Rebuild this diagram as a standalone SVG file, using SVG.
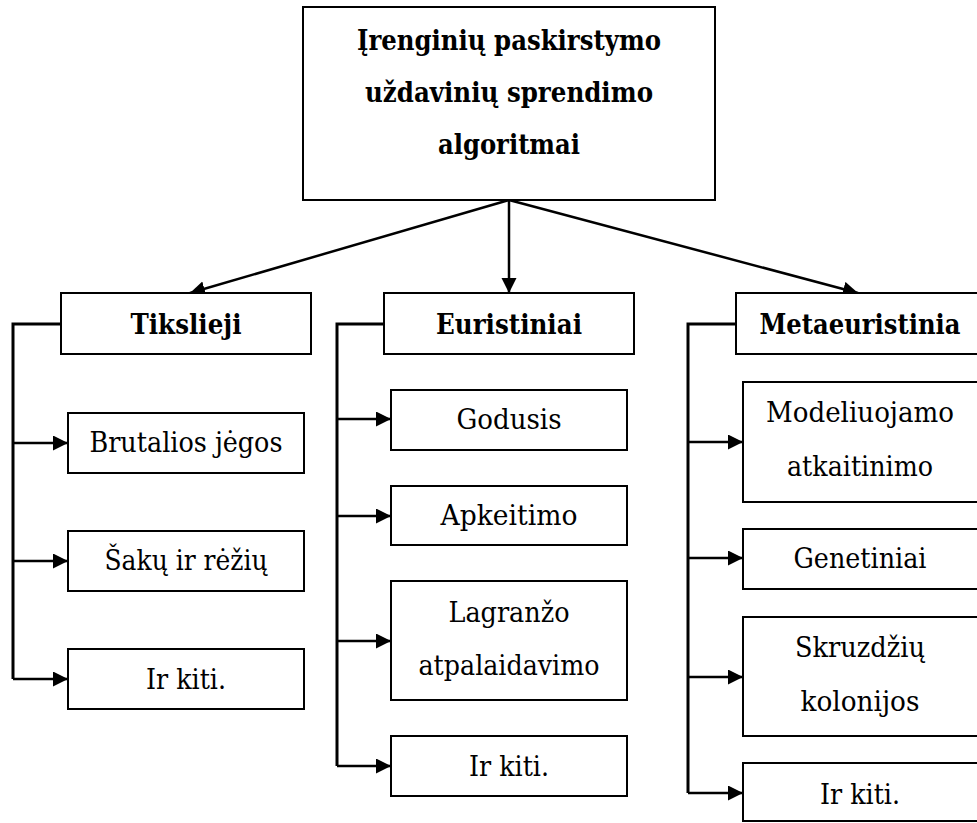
<svg xmlns="http://www.w3.org/2000/svg" width="977" height="823" viewBox="0 0 977 823">
<style>
.box{fill:#fff;stroke:#000;stroke-width:2}
.t{font-family:'DejaVu Serif',serif;font-size:28px;fill:#000;text-anchor:middle}
.b{font-weight:bold}
.c{fill:none;stroke:#000;stroke-width:2.5}
.br{fill:none;stroke:#000;stroke-width:3}
</style>
<defs>
<marker id="ah" markerUnits="userSpaceOnUse" markerWidth="16" markerHeight="16" refX="15" refY="7.5" orient="auto">
<path d="M0,0 L15,7.5 L0,15 z" fill="#000"/>
</marker>
</defs>
<rect width="977" height="823" fill="#fff"/>
<g id="connectors">
<line class="c" x1="509" y1="200" x2="190" y2="293" marker-end="url(#ah)"/>
<line class="c" x1="509" y1="200" x2="509" y2="293" marker-end="url(#ah)"/>
<line class="c" x1="509" y1="200" x2="858" y2="293" marker-end="url(#ah)"/>
<polyline class="br" points="61,324 13,324 13,679"/>
<line class="c" x1="13" y1="443" x2="68" y2="443" marker-end="url(#ah)"/>
<line class="c" x1="13" y1="561" x2="68" y2="561" marker-end="url(#ah)"/>
<line class="c" x1="13" y1="679" x2="68" y2="679" marker-end="url(#ah)"/>
<polyline class="br" points="384,324 337,324 337,766"/>
<line class="c" x1="337" y1="419" x2="391" y2="419" marker-end="url(#ah)"/>
<line class="c" x1="337" y1="516" x2="391" y2="516" marker-end="url(#ah)"/>
<line class="c" x1="337" y1="641" x2="391" y2="641" marker-end="url(#ah)"/>
<line class="c" x1="337" y1="766" x2="391" y2="766" marker-end="url(#ah)"/>
<polyline class="br" points="736,324 688,324 688,793"/>
<line class="c" x1="688" y1="442" x2="743" y2="442" marker-end="url(#ah)"/>
<line class="c" x1="688" y1="558" x2="743" y2="558" marker-end="url(#ah)"/>
<line class="c" x1="688" y1="677" x2="743" y2="677" marker-end="url(#ah)"/>
<line class="c" x1="688" y1="793" x2="743" y2="793" marker-end="url(#ah)"/>
</g>
<g id="root">
<rect class="box" x="303" y="7" width="412" height="193"/>
<text class="t b" x="509" y="50" textLength="304" lengthAdjust="spacingAndGlyphs">Įrenginių paskirstymo</text>
<text class="t b" x="509" y="102" textLength="288" lengthAdjust="spacingAndGlyphs">uždavinių sprendimo</text>
<text class="t b" x="509" y="154" textLength="142" lengthAdjust="spacingAndGlyphs">algoritmai</text>
</g>
<g id="tikslieji">
<rect class="box" x="61" y="293" width="250" height="61"/>
<text class="t b" x="186" y="334" textLength="111" lengthAdjust="spacingAndGlyphs">Tikslieji</text>
</g>
<g id="brutalios">
<rect class="box" x="68" y="413" width="236" height="60"/>
<text class="t" x="186" y="452" textLength="193" lengthAdjust="spacingAndGlyphs">Brutalios jėgos</text>
</g>
<g id="saku">
<rect class="box" x="68" y="531" width="236" height="60"/>
<text class="t" x="186" y="570" textLength="163" lengthAdjust="spacingAndGlyphs">Šakų ir rėžių</text>
</g>
<g id="irkiti1">
<rect class="box" x="68" y="649" width="236" height="60"/>
<text class="t" x="186" y="689" textLength="80" lengthAdjust="spacingAndGlyphs">Ir kiti.</text>
</g>
<g id="euristiniai">
<rect class="box" x="384" y="293" width="250" height="61"/>
<text class="t b" x="509" y="334" textLength="146" lengthAdjust="spacingAndGlyphs">Euristiniai</text>
</g>
<g id="godusis">
<rect class="box" x="391" y="390" width="236" height="60"/>
<text class="t" x="509" y="429" textLength="105" lengthAdjust="spacingAndGlyphs">Godusis</text>
</g>
<g id="apkeitimo">
<rect class="box" x="391" y="486" width="236" height="59"/>
<text class="t" x="509" y="525" textLength="137" lengthAdjust="spacingAndGlyphs">Apkeitimo</text>
</g>
<g id="lagranzo">
<rect class="box" x="391" y="581" width="236" height="119"/>
<text class="t" x="509" y="622" textLength="121" lengthAdjust="spacingAndGlyphs">Lagranžo</text>
<text class="t" x="509" y="675" textLength="181" lengthAdjust="spacingAndGlyphs">atpalaidavimo</text>
</g>
<g id="irkiti2">
<rect class="box" x="391" y="736" width="236" height="60"/>
<text class="t" x="509" y="776" textLength="80" lengthAdjust="spacingAndGlyphs">Ir kiti.</text>
</g>
<g id="metaeuristinia">
<rect class="box" x="736" y="293" width="243" height="61"/>
<text class="t b" x="860" y="334" textLength="201" lengthAdjust="spacingAndGlyphs">Metaeuristinia</text>
</g>
<g id="modeliuojamo">
<rect class="box" x="743" y="382" width="236" height="120"/>
<text class="t" x="860" y="422" textLength="188" lengthAdjust="spacingAndGlyphs">Modeliuojamo</text>
<text class="t" x="860" y="476" textLength="146" lengthAdjust="spacingAndGlyphs">atkaitinimo</text>
</g>
<g id="genetiniai">
<rect class="box" x="743" y="529" width="236" height="60"/>
<text class="t" x="860" y="568" textLength="133" lengthAdjust="spacingAndGlyphs">Genetiniai</text>
</g>
<g id="skruzdziu">
<rect class="box" x="743" y="617" width="236" height="119"/>
<text class="t" x="860" y="657" textLength="130" lengthAdjust="spacingAndGlyphs">Skruzdžių</text>
<text class="t" x="860" y="711" textLength="119" lengthAdjust="spacingAndGlyphs">kolonijos</text>
</g>
<g id="irkiti3">
<rect class="box" x="743" y="763" width="236" height="58"/>
<text class="t" x="860" y="804" textLength="80" lengthAdjust="spacingAndGlyphs">Ir kiti.</text>
</g>
</svg>
